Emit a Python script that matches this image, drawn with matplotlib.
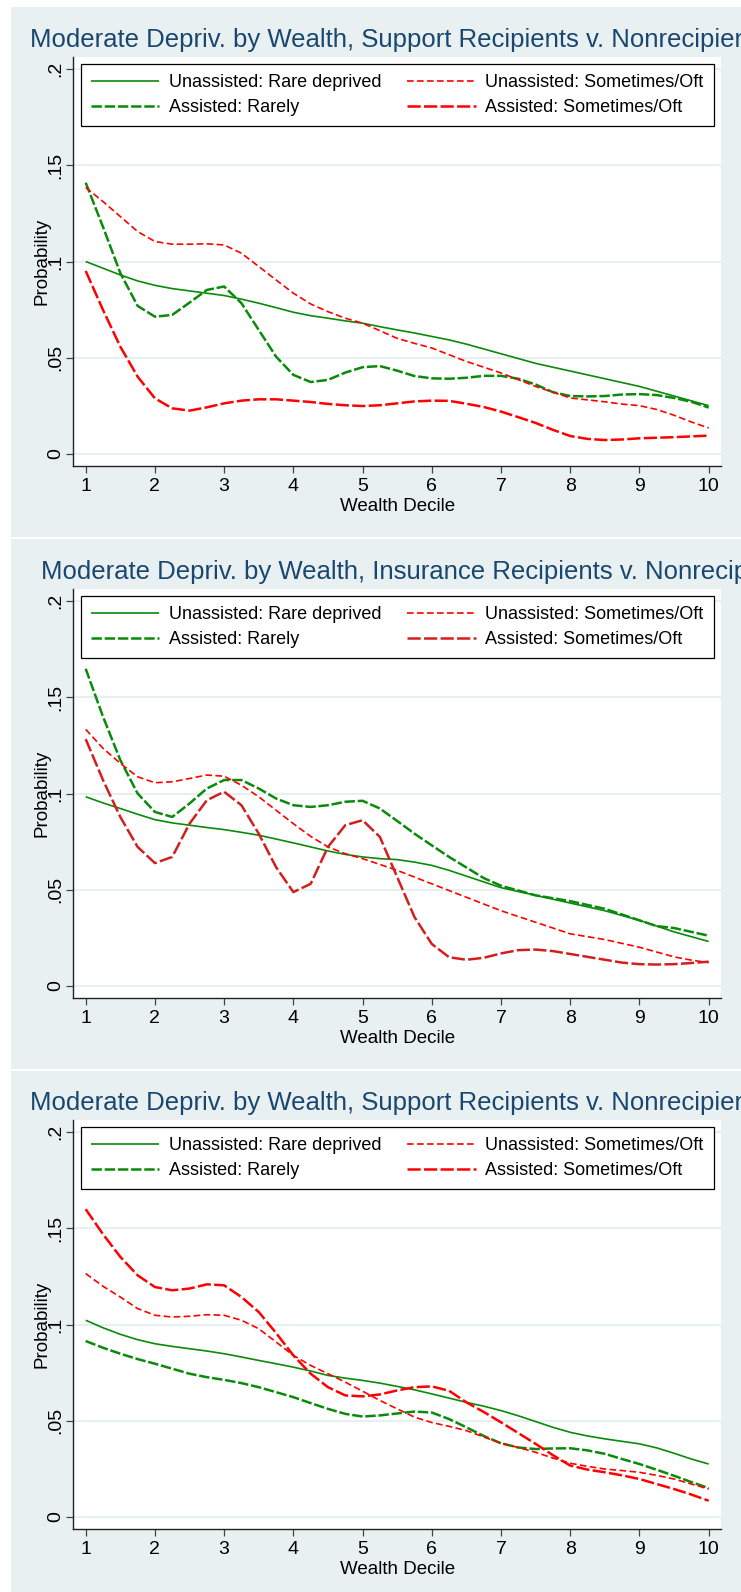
import matplotlib
matplotlib.use('Agg')
import matplotlib.pyplot as plt
from matplotlib.patches import Rectangle

plt.rcParams['font.family'] = ['Liberation Sans', 'DejaVu Sans']
plt.rcParams['lines.scale_dashes'] = False

# ---- data (probability by wealth decile) ----
decile = [1, 1.25, 1.5, 1.75, 2, 2.25, 2.5, 2.75, 3, 3.25, 3.5, 3.75, 4, 4.25, 4.5, 4.75,
          5, 5.25, 5.5, 5.75, 6, 6.25, 6.5, 6.75, 7, 7.25, 7.5, 7.75, 8, 8.25, 8.5, 8.75,
          9, 9.25, 9.5, 9.75, 10]

titles = [
    'Moderate Depriv. by Wealth, Support Recipients v. Nonrecipients',
    'Moderate Depriv. by Wealth, Insurance Recipients v. Nonrecipients',
    'Moderate Depriv. by Wealth, Support Recipients v. Nonrecipients',
]
labels = ['Unassisted: Rare deprived', 'Assisted: Rarely',
          'Unassisted: Sometimes/Oft', 'Assisted: Sometimes/Oft']
yticks = [0, 0.05, 0.1, 0.15, 0.2]
ytick_labels = ['0', '.05', '.1', '.15', '.2']
xticks = [1, 2, 3, 4, 5, 6, 7, 8, 9, 10]

# panel 1
p1_unassist_rare = [.100, .0965, .093, .0899, .0876, .0859, .0847, .0835, .0823, .0804, .0783, .076,
                    .0736, .0718, .0705, .0691, .0679, .0661, .0644, .0628, .061, .0592, .057, .0545,
                    .052, .0495, .047, .045, .043, .041, .039, .037, .035, .0325, .030, .0275, .025]
p1_assist_rare = [.141, .118, .094, .0769, .0713, .0722, .0786, .0852, .087, .0783, .0644, .0505,
                  .041, .0373, .0384, .0422, .045, .0456, .0432, .0404, .0392, .039, .0395, .0405,
                  .0405, .039, .036, .032, .030, .0298, .030, .0308, .031, .0305, .029, .027, .024]
p1_unassist_oft = [.1385, .1312, .1234, .1156, .1104, .109, .109, .1092, .1086, .1043, .0974, .0904,
                   .0835, .0779, .0739, .0705, .0679, .064, .060, .0574, .055, .0515, .048, .045,
                   .042, .0385, .035, .032, .029, .028, .027, .0258, .025, .023, .020, .0165, .0134]
p1_assist_oft = [.0951, .0748, .0557, .0401, .0288, .0236, .0224, .0241, .0262, .0276, .0283, .0283,
                 .0276, .0269, .0259, .0252, .0248, .0252, .0262, .0272, .0276, .0275, .026, .0243,
                 .0219, .019, .016, .0124, .0092, .0077, .0071, .0074, .008, .0083, .0086, .009, .0094]

# panel 2
p2_unassist_rare = [.0983, .0951, .0922, .0892, .0864, .0847, .0835, .0823, .0812, .0798, .0783, .0763,
                    .0743, .0722, .0701, .0683, .067, .0661, .0656, .0643, .0626, .060, .057, .054,
                    .051, .049, .047, .045, .043, .041, .039, .0365, .034, .031, .028, .0255, .023]
p2_assist_rare = [.1649, .140, .1174, .100, .0904, .0878, .0948, .1026, .107, .107, .1026, .0974,
                  .0939, .093, .0939, .0957, .0962, .0922, .0857, .0791, .073, .067, .0615, .056,
                  .052, .0495, .047, .0455, .044, .042, .040, .037, .034, .031, .030, .028, .026]
p2_unassist_oft = [.1334, .1235, .1157, .1087, .1056, .1061, .1078, .1096, .109, .1043, .0983, .0913,
                   .0843, .0777, .0722, .0687, .0661, .0631, .060, .0565, .053, .0495, .046, .0425,
                   .039, .036, .033, .030, .027, .0255, .024, .022, .020, .0175, .015, .0133, .012]
p2_assist_oft = [.1283, .107, .0878, .0722, .0638, .067, .0843, .0965, .1009, .0939, .0791, .0617,
                 .0487, .053, .0722, .0835, .0861, .0774, .0565, .0357, .0217, .0148, .0135, .0145,
                 .0168, .0185, .0188, .018, .0165, .015, .0135, .012, .0112, .011, .0112, .0118, .0125]

# panel 3
p3_unassist_rare = [.1022, .0983, .0949, .0921, .090, .0886, .0874, .0862, .0848, .0831, .0813, .0796,
                    .0778, .0758, .0735, .0721, .0709, .0695, .0678, .066, .0639, .0617, .0595, .0575,
                    .0552, .0525, .0495, .0465, .0439, .042, .0405, .0392, .0379, .0358, .033, .030, .0274]
p3_assist_rare = [.0914, .0879, .0848, .082, .0796, .077, .0744, .0726, .0712, .0695, .0674, .0648,
                  .0622, .0591, .0561, .0535, .0521, .0527, .0537, .0547, .0542, .0508, .0465, .042,
                  .0382, .036, .0352, .0355, .0356, .0345, .0327, .030, .0274, .0244, .0213, .018, .0149]
p3_unassist_oft = [.1265, .1199, .1143, .1083, .1048, .1039, .1043, .1051, .1048, .1022, .0978, .0909,
                   .0839, .0787, .0744, .070, .0653, .0605, .0561, .0518, .049, .047, .0448, .0415,
                   .0382, .036, .0335, .0305, .0278, .0262, .0248, .024, .0231, .0215, .0196, .017, .0144]
p3_assist_oft = [.160, .147, .1352, .1256, .1195, .1178, .1187, .1209, .1204, .1143, .1065, .0956,
                 .0839, .0744, .0674, .0631, .0626, .0636, .0657, .0674, .0678, .0655, .0595, .0545,
                 .0491, .0435, .0379, .032, .0266, .0245, .0231, .0215, .0196, .017, .0144, .0115, .0083]

W, H = 741, 1592
BG = '#E8F0F2'
GRID = '#E2ECEF'
TITLE_COLOR = '#1A476F'
GREEN = '#0A8A0A'
RED = '#FF0000'


def px_rect(left, top, right, bottom):
    return [left / W, 1 - bottom / H, (right - left) / W, (bottom - top) / H]


def draw_panel(fig, offset, panel_top, panel_bottom, title, title_x, series, red_long):
    fig.add_artist(Rectangle((11 / W, 1 - panel_bottom / H), (W - 11) / W,
                             (panel_bottom - panel_top) / H, transform=fig.transFigure,
                             facecolor=BG, edgecolor='none', zorder=-5))
    # title runs past the right edge, as in the cropped original
    fig.text(title_x / W, 1 - (46.7 + offset) / H, title, ha='left', va='baseline',
             fontsize=18.5, color=TITLE_COLOR)

    ax = fig.add_axes(px_rect(73.3, 57.3 + offset, 721, 465.7 + offset))
    ax.set_facecolor('white')

    styles = [
        dict(color=GREEN, lw=1.2, ls='-'),
        dict(color=GREEN, lw=1.8, dashes=(7.5, 2.0)),
        dict(color=RED, lw=1.2, dashes=(4.8, 2.4)),
        dict(color=red_long, lw=1.8, dashes=(9.5, 2.4)),
    ]
    handles = []
    for values, style, label in zip(series, styles, labels):
        line, = ax.plot(decile, values, label=label, solid_capstyle='butt',
                        dash_capstyle='butt', **style)
        handles.append(line)

    ax.set_xlim(0.821, 10.178)
    ax.set_ylim(-0.00625, 0.20625)
    ax.set_xticks(xticks)
    ax.set_yticks(yticks)
    ax.set_yticklabels(ytick_labels, rotation=90, va='center')
    ax.grid(axis='y', color=GRID, lw=1.2)
    ax.set_axisbelow(True)
    for side in ['top', 'right']:
        ax.spines[side].set_visible(False)
    for side in ['left', 'bottom']:
        ax.spines[side].set_linewidth(1.0)
        ax.spines[side].set_color('#222222')
    ax.tick_params(axis='both', length=5, width=0.9, color='#444444', labelsize=14)
    ax.tick_params(axis='x', pad=4)
    ax.tick_params(axis='y', pad=1.5)

    ax.set_ylabel('Probability', fontsize=13.5)
    ax.yaxis.set_label_coords(-0.049, 0.5)
    ax.yaxis.label.set_va('center')
    ax.set_xlabel('Wealth Decile', fontsize=13.5)
    ax.xaxis.set_label_coords(0.5, -0.1)
    ax.xaxis.label.set_va('center')

    leg = ax.legend(handles=handles, ncol=2, loc='upper left',
                    bbox_to_anchor=(0.0114, 0.983), borderaxespad=0,
                    fontsize=13, frameon=True, fancybox=False, framealpha=1,
                    edgecolor='black', handlelength=3.8, handletextpad=0.55,
                    columnspacing=1.4, labelspacing=0.45, borderpad=0.55)
    leg.get_frame().set_linewidth(0.9)


fig = plt.figure(figsize=(W / 100, H / 100), dpi=100, facecolor='white')

draw_panel(fig, 0, 6.7, 537, titles[0], 30.5,
           [p1_unassist_rare, p1_assist_rare, p1_unassist_oft, p1_assist_oft], RED)
draw_panel(fig, 532, 539, 1069, titles[1], 40.6,
           [p2_unassist_rare, p2_assist_rare, p2_unassist_oft, p2_assist_oft], '#D41E1E')
draw_panel(fig, 1063, 1070.5, 1592, titles[2], 30.5,
           [p3_unassist_rare, p3_assist_rare, p3_unassist_oft, p3_assist_oft], RED)

fig.savefig('out.png', dpi=100, facecolor='white')
